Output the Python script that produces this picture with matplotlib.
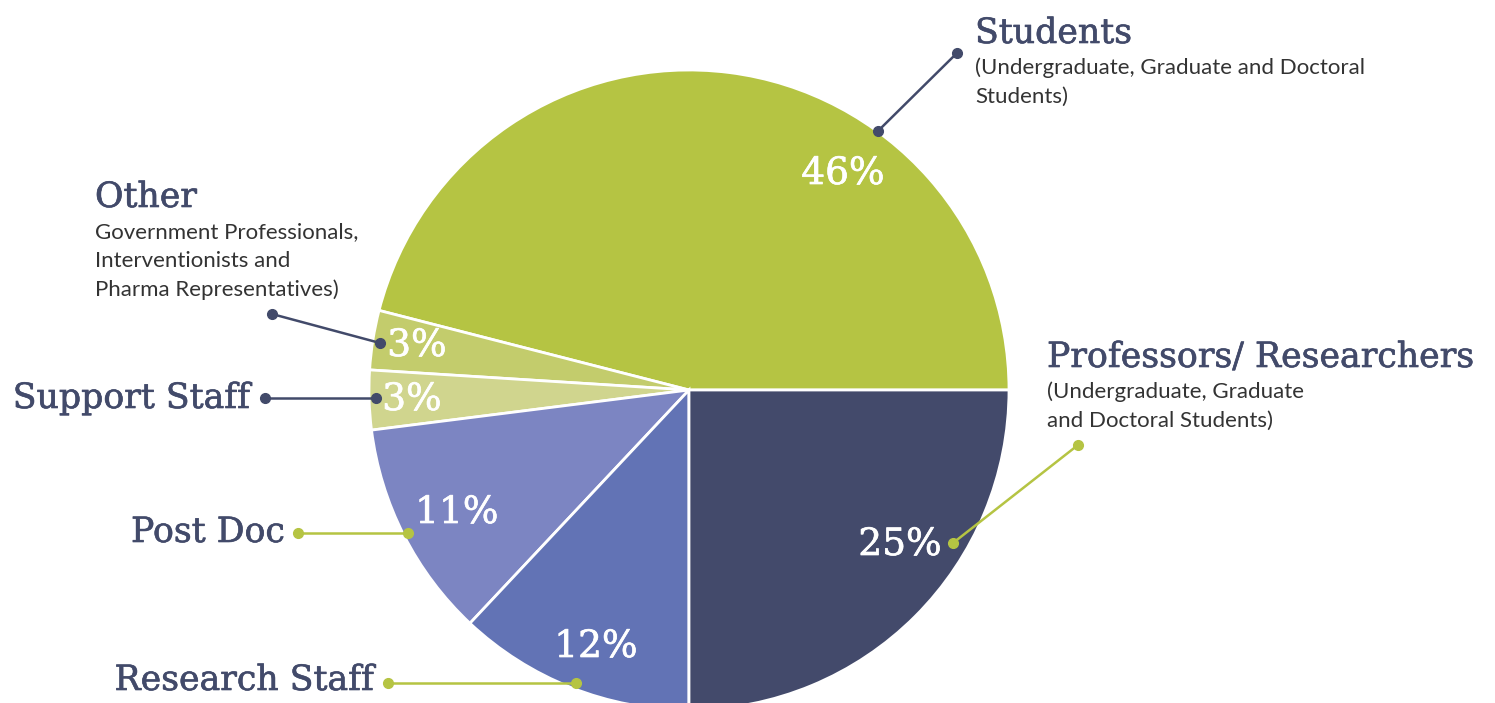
import matplotlib
matplotlib.use('Agg')
import matplotlib.pyplot as plt
import matplotlib.patheffects as pe

# chart data
categories = ['Students', 'Other', 'Support Staff', 'Post Doc', 'Research Staff', 'Professors/ Researchers']
shares = [46, 3, 3, 11, 12, 25]
subtitles = ['(Undergraduate, Graduate and Doctoral\nStudents)',
             'Government Professionals,\nInterventionists and\nPharma Representatives)',
             '', '', '',
             '(Undergraduate, Graduate\nand Doctoral Students)']
colors = ['#b5c443', '#c3cc6c', '#d0d58e', '#7c85c2', '#6273b5', '#434a6b']

NAVY = '#424a6a'
GREEN = '#b5c443'
SERIF = 'DejaVu Serif'
SANS = 'Lato'

W, H = 1495, 703
fig = plt.figure(figsize=(W / 100, H / 100), dpi=100)
ax = fig.add_axes([0, 0, 1, 1])

# pixel coords (y from top) -> data coords
def P(x, y):
    return x, H - y

ax.pie(shares, colors=colors, startangle=0, counterclock=True,
       center=P(689, 390), radius=320, frame=True,
       wedgeprops=dict(edgecolor='white', linewidth=2))
ax.set_xlim(0, W)
ax.set_ylim(0, H)
ax.set_aspect('equal')
ax.axis('off')

# percentage labels (layout positions)
pct_pos = [(843, 174), (417, 346), (412, 400), (457, 513), (596, 647), (900, 545)]
for v, (x, y) in zip(shares, pct_pos):
    ax.text(*P(x, y), f'{v}%', color='white', fontsize=27, family=SERIF,
            ha='center', va='center',
            path_effects=[pe.withStroke(linewidth=0.5, foreground='white')])

# connectors: (label end, pie end, colour)
connectors = [((957, 53), (878, 131), NAVY),
              ((272, 314), (380, 343), NAVY),
              ((265, 398), (376, 398), NAVY),
              ((298, 533), (408, 533), GREEN),
              ((388, 683), (576, 683), GREEN),
              ((1078, 445), (953, 543), GREEN)]
for a, b, c in connectors:
    xa, ya = P(*a)
    xb, yb = P(*b)
    ax.plot([xa, xb], [ya, yb], color=c, lw=1.8, marker='o', markersize=7,
            solid_capstyle='round')

# category labels: (x, y, ha)
label_pos = [(975, 33, 'left'), (95, 197, 'left'), (250, 398, 'right'),
             (285, 532, 'right'), (374, 680, 'right'), (1047, 357, 'left')]
sub_pos = [(975, 68), (95, 232), None, None, None, (1047, 392)]
for name, sub, (x, y, ha), sp in zip(categories, subtitles, label_pos, sub_pos):
    ax.text(*P(x, y), name, color=NAVY, fontsize=25, family=SERIF,
            ha=ha, va='center',
            path_effects=[pe.withStroke(linewidth=0.45, foreground=NAVY)])
    if sub and sp:
        for i, line in enumerate(sub.split('\n')):
            ax.text(*P(sp[0], sp[1] + 29 * i), line, color='#333333',
                    fontsize=16, family=SANS, ha='left', va='center')

fig.savefig('out.png', dpi=100, facecolor='white')
